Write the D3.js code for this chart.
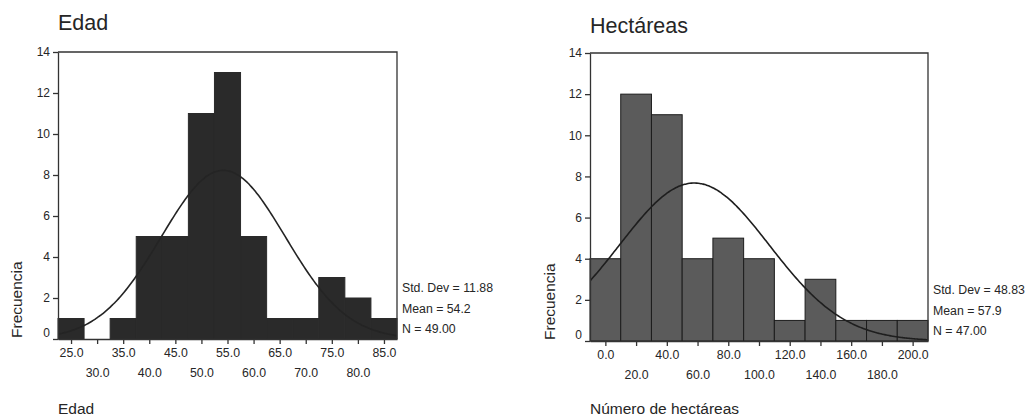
<!DOCTYPE html>
<html>
<head>
<meta charset="utf-8">
<script src="https://cdn.jsdelivr.net/npm/d3@7"></script>
<style>
  html, body { margin: 0; padding: 0; background: #ffffff; }
  svg { display: block; font-family: "Liberation Sans", Arial, sans-serif; }
</style>
</head>
<body>
<svg id="chart" width="1027" height="419"></svg>
<script>
// Age histogram (5-year bins, centred on the tick values)
const edadBins   = [25, 30, 35, 40, 45, 50, 55, 60, 65, 70, 75, 80, 85];
const edadCounts = [1, 0, 1, 5, 5, 11, 13, 5, 1, 1, 3, 2, 1];
const edadStats  = { sd: 11.88, mean: 54.2, n: 49 };
const edadLabels = ["Std. Dev = 11.88", "Mean = 54.2", "N = 49.00"];

// Farm size histogram (20-ha bins, centred on the tick values)
const hectBins   = [0, 20, 40, 60, 80, 100, 120, 140, 160, 180, 200];
const hectCounts = [4, 12, 11, 4, 5, 4, 1, 3, 1, 1, 1];
const hectStats  = { sd: 48.83, mean: 57.9, n: 47 };
const hectLabels = ["Std. Dev = 48.83", "Mean = 57.9", "N = 47.00"];

const freqTicks = [0, 2, 4, 6, 8, 10, 12, 14];

const svg = d3.select("#chart");
const ink = "#262626";

function histogram(cfg) {
  const step = cfg.bins[1] - cfg.bins[0];
  const x = d3.scaleLinear()
    .domain([cfg.bins[0] - step / 2, cfg.bins[cfg.bins.length - 1] + step / 2])
    .range([cfg.left, cfg.right]);
  const y = d3.scaleLinear().domain([0, 14]).range([cfg.bottom, cfg.top]);

  const g = svg.append("g");

  // title
  g.append("text")
    .attr("x", cfg.left).attr("y", cfg.titleY)
    .attr("font-size", 21.5).attr("fill", ink)
    .text(cfg.title);

  // bars
  g.append("g").selectAll("rect")
    .data(cfg.bins.map((b, i) => ({ b, c: cfg.counts[i] })).filter(d => d.c > 0))
    .join("rect")
    .attr("x", d => x(d.b - step / 2))
    .attr("width", d => x(d.b + step / 2) - x(d.b - step / 2))
    .attr("y", d => y(d.c))
    .attr("height", d => y(0) - y(d.c))
    .attr("fill", cfg.barFill)
    .attr("stroke", cfg.barStroke)
    .attr("stroke-width", 1);

  // fitted normal curve
  const clipId = "clip-" + cfg.id;
  g.append("clipPath").attr("id", clipId)
    .append("rect")
    .attr("x", cfg.left).attr("y", cfg.top)
    .attr("width", cfg.right - cfg.left).attr("height", cfg.bottom - cfg.top);
  const [x0, x1] = x.domain();
  const s = cfg.stats;
  const scale = s.n * step / (s.sd * Math.sqrt(2 * Math.PI));
  const pts = d3.range(0, 201).map(i => {
    const v = x0 + (x1 - x0) * i / 200;
    const z = (v - s.mean) / s.sd;
    return [v, scale * Math.exp(-0.5 * z * z)];
  });
  g.append("path")
    .datum(pts)
    .attr("clip-path", `url(#${clipId})`)
    .attr("fill", "none")
    .attr("stroke", cfg.curveStroke)
    .attr("stroke-width", 1.6)
    .attr("d", d3.line().x(d => x(d[0])).y(d => y(d[1])).curve(d3.curveBasis));

  // frame: top and right edges
  g.append("path")
    .attr("d", `M${cfg.left},${cfg.top}H${cfg.right}V${cfg.bottom}`)
    .attr("fill", "none").attr("stroke", "#333").attr("stroke-width", 1.3);

  // y axis
  const ya = g.append("g")
    .attr("transform", `translate(${cfg.left},0)`)
    .call(d3.axisLeft(y).tickValues(freqTicks).tickFormat(d3.format("d"))
      .tickSize(5).tickSizeOuter(0).tickPadding(3));
  ya.selectAll("path, line").attr("stroke", "#333").attr("stroke-width", 1.3);
  ya.selectAll("text").attr("font-size", 12).attr("fill", ink)
    .attr("font-family", "Liberation Sans, Arial, sans-serif")
    .attr("dy", d => d === 0 ? "-0.2em" : "0.32em");

  // x axis with labels staggered over two rows
  const xa = g.append("g")
    .attr("transform", `translate(0,${cfg.bottom})`)
    .call(d3.axisBottom(x).tickValues(cfg.bins).tickFormat(d3.format(".1f"))
      .tickSize(5).tickSizeOuter(0).tickPadding(4));
  xa.selectAll("path, line").attr("stroke", "#333").attr("stroke-width", 1.3);
  xa.selectAll("text").attr("font-size", 12.3).attr("fill", ink)
    .attr("font-family", "Liberation Sans, Arial, sans-serif")
    .attr("y", (d, i) => i % 2 === 0 ? 9.5 : 29.5);

  // axis titles
  g.append("text")
    .attr("transform", `translate(${cfg.yTitleX},${cfg.bottom - 1}) rotate(-90)`)
    .attr("font-size", 15.5).attr("fill", ink)
    .text("Frecuencia");
  g.append("text")
    .attr("x", cfg.left).attr("y", 414)
    .attr("font-size", 15.5).attr("fill", ink)
    .text(cfg.xTitle);

  // summary statistics
  g.append("g").selectAll("text")
    .data(cfg.labels)
    .join("text")
    .attr("x", cfg.right + 5)
    .attr("y", (d, i) => cfg.bottom - 47 + i * 20.7)
    .attr("font-size", 12.3).attr("fill", ink)
    .text(d => d);
}

histogram({
  id: "edad", title: "Edad", xTitle: "Edad",
  bins: edadBins, counts: edadCounts, stats: edadStats, labels: edadLabels,
  left: 58, right: 397, top: 52, bottom: 339, titleY: 30, yTitleX: 22,
  barFill: "#2a2a2a", barStroke: "#2a2a2a", curveStroke: "#242424"
});

histogram({
  id: "hect", title: "Hectáreas", xTitle: "Número de hectáreas",
  bins: hectBins, counts: hectCounts, stats: hectStats, labels: hectLabels,
  left: 590, right: 928, top: 53, bottom: 341, titleY: 33, yTitleX: 555,
  barFill: "#5b5b5b", barStroke: "#1c1c1c", curveStroke: "#1e1e1e"
});
</script>
</body>
</html>
